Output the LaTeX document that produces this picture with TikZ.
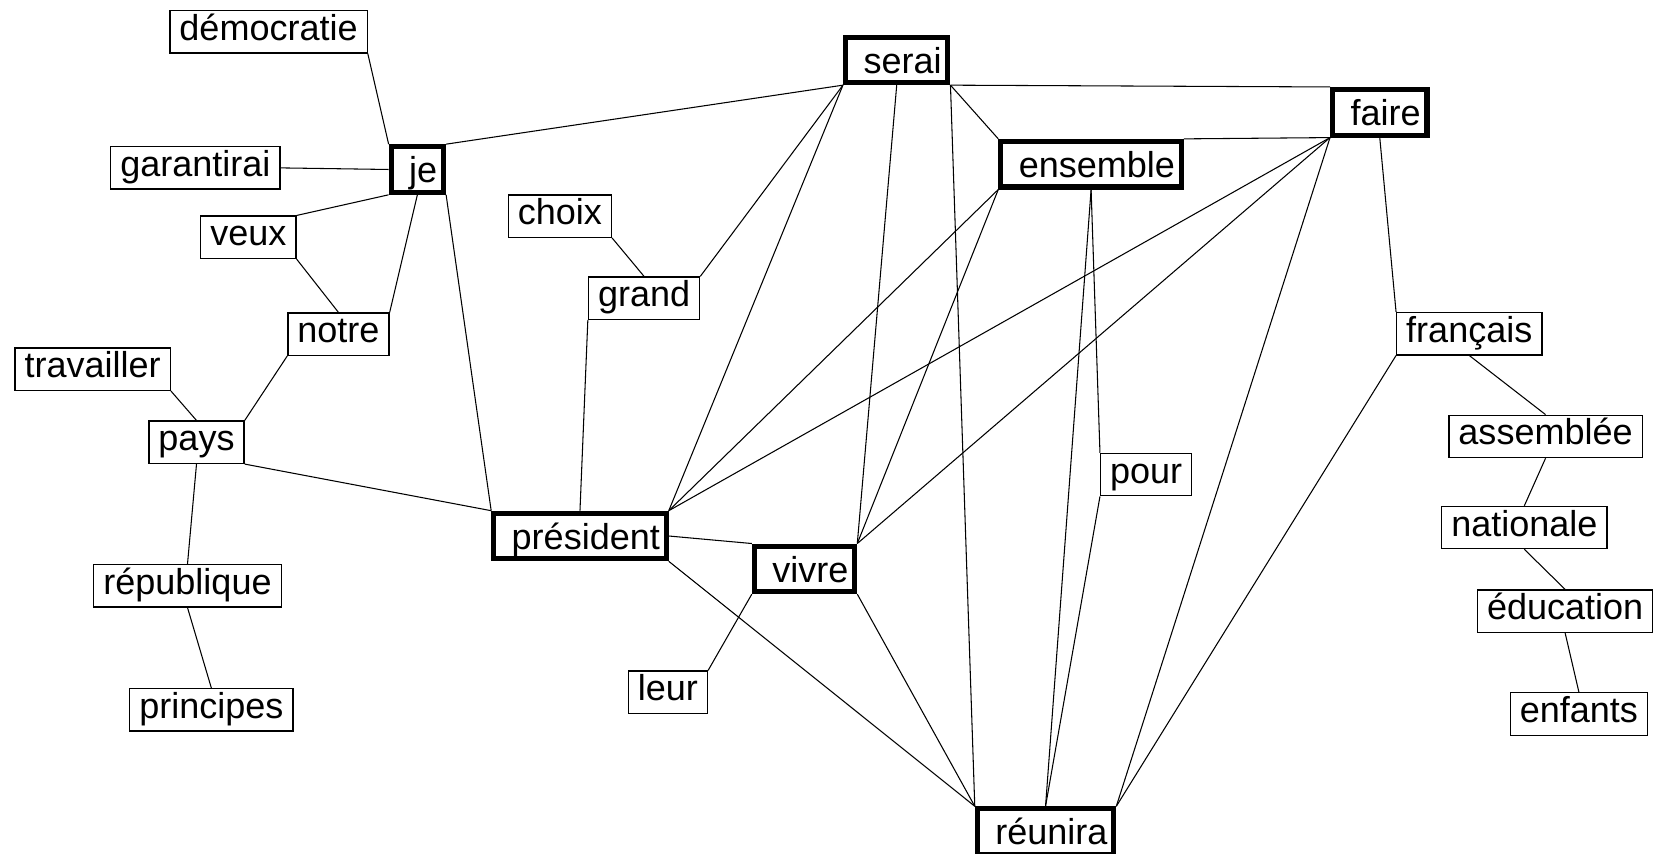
\documentclass[tikz,border=0pt]{standalone}
\usepackage{fontspec}
\newfontfamily\wordfont{Liberation Sans}
\tikzset{
  word/.style={draw=black, line width=0.6pt, fill=white, inner xsep=4.5pt, inner ysep=2pt,
               text height=12pt, text depth=4pt, font=\wordfont\fontsize{17}{20}\selectfont},
  hub/.style={word, line width=2.4pt, inner xsep=3pt, inner ysep=2.5pt,
              text height=14.5pt, text depth=2pt,
              execute at begin node={\hspace*{5.5pt}}},
  link/.style={draw=black, line width=0.5pt},
}

\begin{document}
\begin{tikzpicture}[x=0.5pt, y=-0.5pt]
  \useasboundingbox (0,0) rectangle (1568,806);
  % left cluster
  \node[word] (democratie) at (253.5,30) {démocratie};
  \node[word] (garantirai) at (184.5,158.5) {garantirai};
  \node[hub] (je) at (394,160) {je};
  \node[word] (veux) at (234.5,224) {veux};
  \node[word] (notre) at (319.5,315.5) {notre};
  \node[word] (travailler) at (87.5,348.5) {travailler};
  \node[word] (pays) at (185.5,417.5) {pays};
  \node[word] (republique) at (177,553) {république};
  \node[word] (principes) at (199.5,670) {principes};
  \node[word] (choix) at (528.5,204) {choix};
  \node[word] (grand) at (608,281.5) {grand};
  \node[hub] (president) at (547.5,506) {président};
  \node[hub] (vivre) at (759.5,537) {vivre};
  \node[word] (leur) at (630.5,653.5) {leur};
  % middle and right
  \node[hub] (serai) at (846.5,56.5) {serai};
  \node[hub] (ensemble) at (1030,155) {ensemble};
  \node[hub] (faire) at (1302.5,106) {faire};
  \node[word] (pour) at (1082,448) {pour};
  \node[hub] (reunira) at (987,785) {réunira};
  \node[word] (francais) at (1387,315) {français};
  \node[word] (assemblee) at (1459,412) {assemblée};
  \node[word] (nationale) at (1439,498) {nationale};
  \node[word] (education) at (1477.5,577) {éducation};
  \node[word] (enfants) at (1490.5,674) {enfants};

  % links
  \foreach \a/\b in {democratie.south east/je.north west, garantirai.east/je.west,
      veux.north east/je.south west, veux.south east/notre.north,
      je.south/notre.north east, je.south east/president.north west,
      je.north east/serai.south west, notre.south west/pays.north east,
      travailler.south east/pays.north, pays.south/republique.north,
      pays.south east/president.north west, republique.south/principes.north,
      choix.south east/grand.north, grand.south west/president.north,
      grand.north east/serai.south west}
    \draw[link] (\a) -- (\b);
  \foreach \a/\b in {serai.south west/president.north east, serai.south/vivre.north east,
      serai.south east/ensemble.north west, serai.south east/faire.north west,
      serai.south east/reunira.north west, ensemble.north east/faire.south west,
      ensemble.south west/president.north east, ensemble.south west/vivre.north east,
      ensemble.south/pour.north west, ensemble.south/reunira.north,
      faire.south west/president.north east, faire.south west/vivre.north east,
      faire.south west/reunira.north east, faire.south/francais.north west}
    \draw[link] (\a) -- (\b);
  \foreach \a/\b in {francais.south west/reunira.north east, francais.south/assemblee.north,
      assemblee.south/nationale.north, nationale.south/education.north,
      education.south/enfants.north, pour.south west/reunira.north,
      president.east/vivre.north west, president.south east/reunira.north west,
      vivre.south west/leur.north east, vivre.south east/reunira.north west}
    \draw[link] (\a) -- (\b);
\end{tikzpicture}
\end{document}
